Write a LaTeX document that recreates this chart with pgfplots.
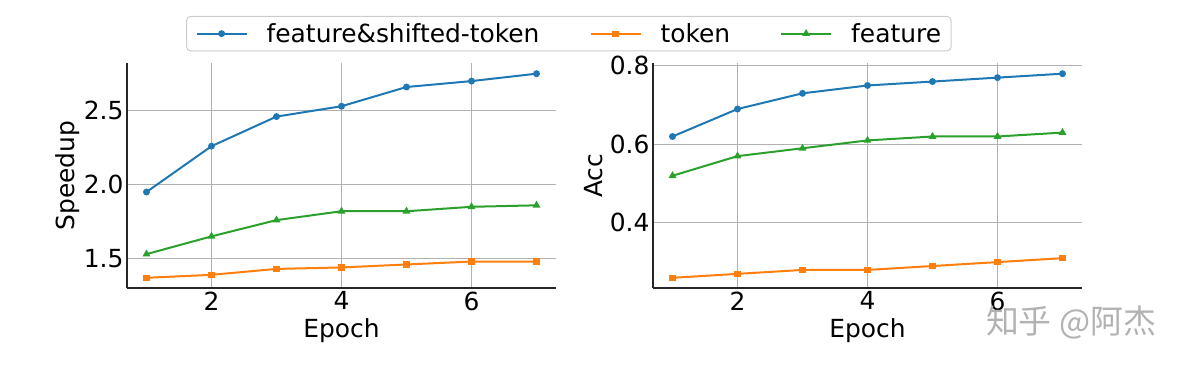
\documentclass[border=0pt]{standalone}
\usepackage{fontspec}
\setmainfont{DejaVu Sans}
\newfontfamily\cjk{Noto Sans CJK SC}
\usepackage{pgfplots}
\pgfplotsset{compat=1.18}

\definecolor{cblue}{HTML}{1F77B4}
\definecolor{corange}{HTML}{FF7F0E}
\definecolor{cgreen}{HTML}{2CA02C}

\pgfplotsset{
 myax/.style={
  scale only axis, width=429bp, height=224.5bp,
  axis x line*=bottom, axis y line*=left,
  axis line style={-, line width=1.3bp, black!85},
  xmin=0.7, xmax=7.3,
  xtick={2,4,6},
  grid=major, grid style={line width=1bp, black!30},
  major tick length=0pt,
  tick label style={font=\fontsize{25}{30}\selectfont},
  /pgf/number format/assume math mode=true,
  yticklabel style={/pgf/number format/.cd, fixed, fixed zerofill, precision=1},
  xlabel={Epoch},
  every axis x label/.style={at={(axis description cs:0.5,-0.19)}, anchor=center, font=\fontsize{25}{30}\selectfont},
  every axis y label/.style={at={(axis description cs:-0.138,0.5)}, anchor=center, rotate=90, font=\fontsize{25}{30}\selectfont},
  every axis plot/.append style={line width=2bp},
  legend image code/.code={\draw[mark repeat=2,mark phase=2,#1] plot coordinates {(0bp,0bp)(25bp,0bp)(50bp,0bp)};},
 },
 sA/.style={cblue, mark=*, mark size=2.4bp, mark options={solid}},
 sB/.style={corange, mark=square*, mark size=2.1bp, mark options={solid}},
 sC/.style={cgreen, mark=triangle*, mark size=2.6bp, mark options={solid}},
}

\begin{document}
\begin{tikzpicture}
\path[use as bounding box] (0,0) rectangle (1196bp,372bp);
\begin{axis}[myax, at={(127bp,84bp)}, anchor=south west,
  ymin=1.301, ymax=2.819, ytick={1.5,2.0,2.5},
  ylabel={Speedup},
  legend columns=3,
  legend style={at={(rel axis cs:1.03,1.133)}, anchor=center,
    draw=black!20, rounded corners=4bp, line width=1bp,
    font=\fontsize{25}{30}\selectfont,
    inner xsep=9bp, inner ysep=6bp,
    nodes={inner sep=1bp},
    /tikz/every odd column/.append style={column sep=18bp},
    /tikz/every even column/.append style={column sep=49bp}},
]
\addplot[sA] coordinates {(1,1.95)(2,2.26)(3,2.46)(4,2.53)(5,2.66)(6,2.70)(7,2.75)};
\addlegendentry{feature\&shifted-token}
\addplot[sB] coordinates {(1,1.37)(2,1.39)(3,1.43)(4,1.44)(5,1.46)(6,1.48)(7,1.48)};
\addlegendentry{token}
\addplot[sC] coordinates {(1,1.53)(2,1.65)(3,1.76)(4,1.82)(5,1.82)(6,1.85)(7,1.86)};
\addlegendentry{feature}
\end{axis}
\begin{axis}[myax, at={(653bp,84bp)}, anchor=south west,
  ymin=0.234, ymax=0.806, ytick={0.4,0.6,0.8},
  ylabel={Acc},
]
\addplot[sA] coordinates {(1,0.62)(2,0.69)(3,0.73)(4,0.75)(5,0.76)(6,0.77)(7,0.78)};
\addplot[sB] coordinates {(1,0.26)(2,0.27)(3,0.28)(4,0.28)(5,0.29)(6,0.30)(7,0.31)};
\addplot[sC] coordinates {(1,0.52)(2,0.57)(3,0.59)(4,0.61)(5,0.62)(6,0.62)(7,0.63)};
\end{axis}
\node[text=black!30, font=\cjk\fontsize{33}{36}\selectfont] at (1071bp,49bp) {知乎 @阿杰};
\end{tikzpicture}
\end{document}
